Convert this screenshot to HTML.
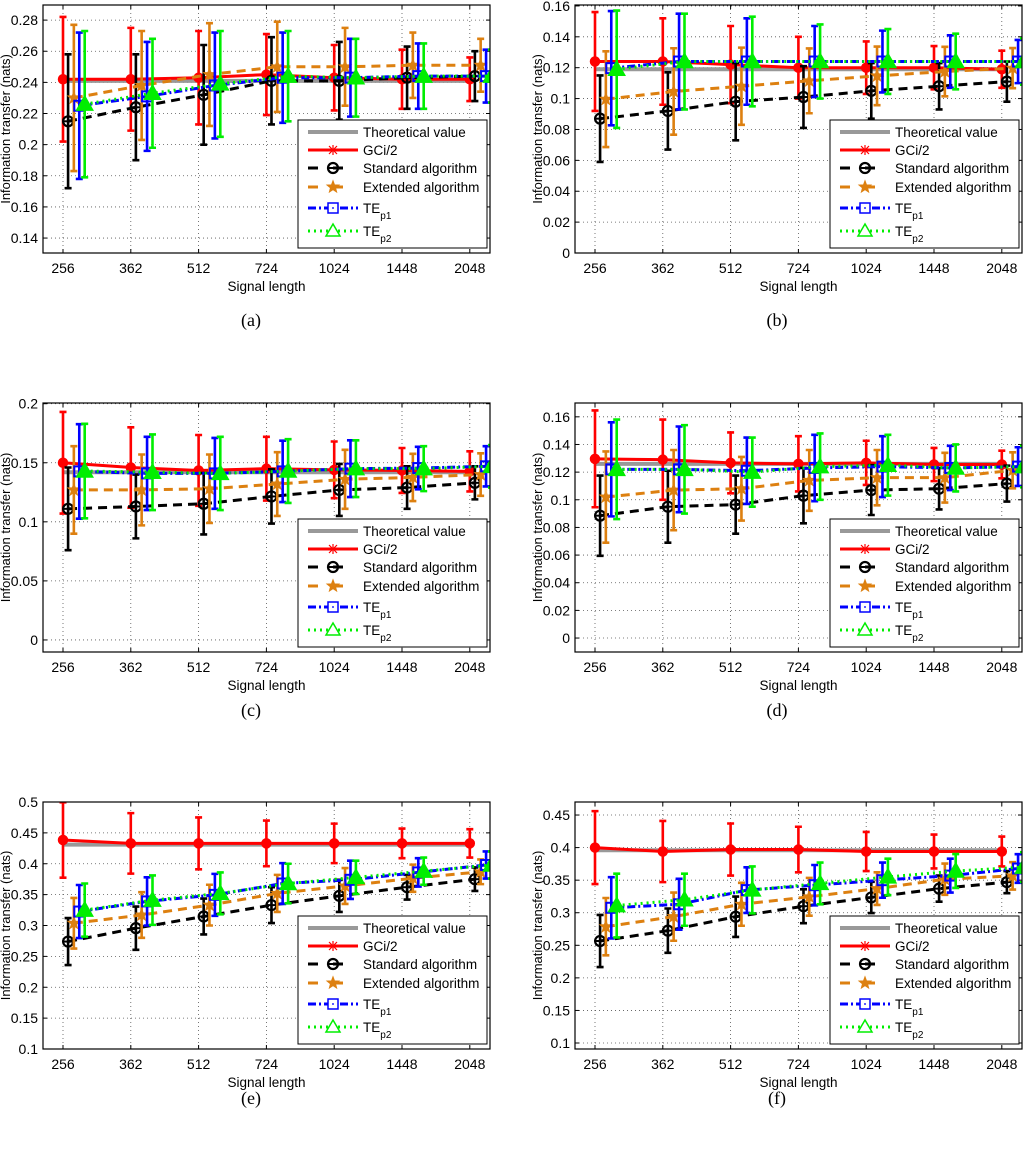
<!DOCTYPE html>
<html><head><meta charset="utf-8">
<style>
html,body{margin:0;padding:0;background:#fff;}
svg{display:block;font-family:"Liberation Sans",Arial,sans-serif;}
</style></head>
<body>
<svg id="fig" width="1024" height="1153" viewBox="0 0 1024 1153" xmlns="http://www.w3.org/2000/svg"></svg>
<script>
// ---- shared data ----
const xLabels = ['256','362','512','724','1024','1448','2048'];
const seriesNames = ['Theoretical value','GCi/2','Standard algorithm','Extended algorithm','TE','TE'];

// Panel (a)
const aTheo = [0.241,0.241,0.241,0.241,0.241,0.241,0.241];
const aRed = [0.242,0.242,0.243,0.245,0.243,0.242,0.242];
const aRedErr = [0.040,0.033,0.030,0.026,0.021,0.019,0.014];
const aBlack = [0.215,0.224,0.232,0.241,0.241,0.243,0.244];
const aBlackErr = [0.043,0.034,0.032,0.028,0.025,0.020,0.016];
const aOrange = [0.230,0.238,0.245,0.250,0.250,0.251,0.251];
const aOrangeErr = [0.047,0.035,0.033,0.029,0.025,0.021,0.017];
const aBlue = [0.225,0.231,0.238,0.243,0.243,0.244,0.244];
const aBlueErr = [0.047,0.035,0.034,0.029,0.025,0.021,0.017];
const aGreen = [0.226,0.233,0.239,0.244,0.243,0.244,0.244];
const aGreenErr = [0.047,0.035,0.034,0.029,0.025,0.021,0.017];
const aTicks = ['0.14','0.16','0.18','0.2','0.22','0.24','0.26','0.28'];

// Panel (b)
const bTheo = [0.119,0.119,0.119,0.119,0.119,0.119,0.119];
const bRed = [0.124,0.124,0.122,0.120,0.120,0.120,0.119];
const bRedErr = [0.032,0.028,0.025,0.020,0.017,0.014,0.012];
const bBlack = [0.087,0.092,0.098,0.101,0.105,0.108,0.111];
const bBlackErr = [0.028,0.025,0.025,0.020,0.018,0.015,0.013];
const bOrange = [0.0996,0.1046,0.108,0.1115,0.1147,0.1175,0.1197];
const bOrangeErr = [0.031,0.028,0.025,0.021,0.019,0.016,0.013];
const bBlue = [0.1197,0.124,0.124,0.124,0.124,0.124,0.124];
const bBlueErr = [0.037,0.031,0.028,0.023,0.020,0.017,0.014];
const bGreen = [0.119,0.124,0.124,0.124,0.124,0.124,0.124];
const bGreenErr = [0.038,0.031,0.029,0.024,0.021,0.018,0.015];
const bTicks = ['0','0.02','0.04','0.06','0.08','0.1','0.12','0.14','0.16'];

// Panel (c)
const cTheo = [0.142,0.142,0.142,0.142,0.142,0.142,0.142];
const cRed = [0.150,0.146,0.1435,0.145,0.144,0.1435,0.1427];
const cRedErr = [0.043,0.034,0.030,0.027,0.024,0.019,0.017];
const cBlack = [0.111,0.113,0.1153,0.1215,0.127,0.129,0.133];
const cBlackErr = [0.035,0.027,0.026,0.023,0.022,0.018,0.014];
const cOrange = [0.127,0.127,0.128,0.132,0.136,0.1376,0.140];
const cOrangeErr = [0.037,0.030,0.029,0.027,0.025,0.020,0.018];
const cBlue = [0.1427,0.141,0.141,0.1427,0.145,0.1455,0.147];
const cBlueErr = [0.040,0.031,0.030,0.026,0.024,0.018,0.017];
const cGreen = [0.143,0.142,0.141,0.143,0.145,0.145,0.147];
const cGreenErr = [0.040,0.032,0.031,0.027,0.024,0.019,0.018];
const cTicks = ['0','0.05','0.1','0.15','0.2'];

// Panel (d)
const dTheo = [0.126,0.126,0.126,0.126,0.126,0.126,0.126];
const dRed = [0.1296,0.129,0.1267,0.126,0.1267,0.1255,0.1255];
const dRedErr = [0.035,0.029,0.022,0.020,0.016,0.012,0.010];
const dBlack = [0.0885,0.095,0.0965,0.103,0.107,0.108,0.1117];
const dBlackErr = [0.029,0.026,0.021,0.020,0.018,0.015,0.013];
const dOrange = [0.102,0.107,0.108,0.114,0.116,0.116,0.1213];
const dOrangeErr = [0.033,0.029,0.023,0.022,0.020,0.018,0.013];
const dBlue = [0.122,0.122,0.121,0.123,0.124,0.123,0.124];
const dBlueErr = [0.034,0.031,0.024,0.024,0.022,0.016,0.014];
const dGreen = [0.122,0.122,0.120,0.124,0.125,0.123,0.124];
const dGreenErr = [0.036,0.032,0.025,0.024,0.022,0.017,0.015];
const dTicks = ['0','0.02','0.04','0.06','0.08','0.1','0.12','0.14','0.16'];

// Panel (e)
const eTheo = [0.431,0.431,0.431,0.431,0.431,0.431,0.431];
const eRed = [0.4385,0.433,0.433,0.433,0.433,0.433,0.433];
const eRedErr = [0.061,0.049,0.042,0.037,0.032,0.024,0.023];
const eBlack = [0.274,0.2957,0.3146,0.333,0.348,0.362,0.375];
const eBlackErr = [0.038,0.035,0.029,0.029,0.026,0.020,0.019];
const eOrange = [0.3037,0.317,0.333,0.352,0.364,0.3766,0.387];
const eOrangeErr = [0.041,0.037,0.033,0.030,0.029,0.022,0.020];
const eBlue = [0.3226,0.339,0.3496,0.368,0.374,0.386,0.398];
const eBlueErr = [0.043,0.039,0.034,0.033,0.031,0.023,0.022];
const eGreen = [0.325,0.341,0.352,0.368,0.378,0.388,0.398];
const eGreenErr = [0.043,0.040,0.034,0.032,0.027,0.022,0.022];
const eTicks = ['0.1','0.15','0.2','0.25','0.3','0.35','0.4','0.45','0.5'];

// Panel (f)
const fTheo = [0.396,0.396,0.396,0.396,0.396,0.396,0.396];
const fRed = [0.400,0.394,0.397,0.397,0.394,0.394,0.394];
const fRedErr = [0.056,0.047,0.040,0.035,0.030,0.026,0.023];
const fBlack = [0.2566,0.2725,0.2939,0.310,0.3235,0.337,0.347];
const fBlackErr = [0.040,0.034,0.031,0.026,0.024,0.020,0.017];
const fOrange = [0.2786,0.294,0.313,0.3245,0.337,0.3515,0.3566];
const fOrangeErr = [0.044,0.037,0.033,0.029,0.025,0.024,0.021];
const fBlue = [0.3076,0.313,0.3347,0.3423,0.350,0.357,0.3679];
const fBlueErr = [0.047,0.039,0.035,0.031,0.027,0.026,0.022];
const fGreen = [0.311,0.320,0.335,0.345,0.355,0.364,0.370];
const fGreenErr = [0.049,0.040,0.036,0.032,0.028,0.026,0.023];
const fTicks = ['0.1','0.15','0.2','0.25','0.3','0.35','0.4','0.45'];

const NS = 'http://www.w3.org/2000/svg';
const svg = document.getElementById('fig');
function mk(tag, attrs, parent){
  const e = document.createElementNS(NS, tag);
  for (const k in attrs) e.setAttribute(k, attrs[k]);
  (parent||svg).appendChild(e);
  return e;
}

const panels = [
  {key:'a', left:43, top:5, bottom:253, ymin:0.1304, ymax:0.2897, ticks:aTheo&&aTicks,
   theo:aTheo, s:[[aRed,aRedErr],[aBlack,aBlackErr],[aOrange,aOrangeErr],[aBlue,aBlueErr],[aGreen,aGreenErr]], cap:[251,326]},
  {key:'b', left:575, top:5, bottom:253, ymin:0, ymax:0.1606, ticks:bTicks,
   theo:bTheo, s:[[bRed,bRedErr],[bBlack,bBlackErr],[bOrange,bOrangeErr],[bBlue,bBlueErr],[bGreen,bGreenErr]], cap:[777,326]},
  {key:'c', left:43, top:403, bottom:652, ymin:-0.0102, ymax:0.2006, ticks:cTicks,
   theo:cTheo, s:[[cRed,cRedErr],[cBlack,cBlackErr],[cOrange,cOrangeErr],[cBlue,cBlueErr],[cGreen,cGreenErr]], cap:[251,716]},
  {key:'d', left:575, top:403, bottom:652, ymin:-0.0101, ymax:0.170, ticks:dTicks,
   theo:dTheo, s:[[dRed,dRedErr],[dBlack,dBlackErr],[dOrange,dOrangeErr],[dBlue,dBlueErr],[dGreen,dGreenErr]], cap:[777,716]},
  {key:'e', left:43, top:802, bottom:1049, ymin:0.1, ymax:0.5, ticks:eTicks,
   theo:eTheo, s:[[eRed,eRedErr],[eBlack,eBlackErr],[eOrange,eOrangeErr],[eBlue,eBlueErr],[eGreen,eGreenErr]], cap:[251,1104]},
  {key:'f', left:575, top:802, bottom:1049, ymin:0.0908, ymax:0.470, ticks:fTicks,
   theo:fTheo, s:[[fRed,fRedErr],[fBlack,fBlackErr],[fOrange,fOrangeErr],[fBlue,fBlueErr],[fGreen,fGreenErr]], cap:[777,1104]},
];

const colors = ['#ff0000','#000000','#dd8010','#0000ff','#00ee00'];
const dashes = ['none','9,6','9,6','8,3,2,3','2,4'];
const offs = [0, 0.075, 0.16, 0.24, 0.32];
const sNames = ['gci','standard','extended','te-p1','te-p2'];
const W = 447, STEP = 67.8;

function marker(g, k, x, y, col){
  if (k===0){ const m = mk('circle',{cx:x,cy:y,r:4.5,fill:col,stroke:col,'stroke-width':1.5},g); return m; }
  if (k===1){ const m = mk('g',{},g);
    mk('circle',{cx:x,cy:y,r:5,fill:'none',stroke:col,'stroke-width':2.2},m);
    mk('line',{x1:x-5,y1:y,x2:x+5,y2:y,stroke:col,'stroke-width':2},m); return m; }
  if (k===2){ const pts=[]; for(let j=0;j<10;j++){const r=j%2?2.6:6.2;const a=-Math.PI/2+j*Math.PI/5;pts.push((x+r*Math.cos(a)).toFixed(1)+','+(y+r*Math.sin(a)).toFixed(1));}
    return mk('polygon',{points:pts.join(' '),fill:col,stroke:col,'stroke-width':1},g); }
  if (k===3){ const m = mk('g',{},g);
    mk('rect',{x:x-5,y:y-5,width:10,height:10,fill:'none',stroke:col,'stroke-width':2},m);
    mk('rect',{x:x-0.8,y:y-0.8,width:1.6,height:1.6,fill:col},m); return m; }
  return mk('polygon',{points:`${x},${y-8} ${x-8},${y+6} ${x+8},${y+6}`,fill:col,stroke:col,'stroke-width':1.5},g);
}

panels.forEach(p=>{
  const g = mk('g',{});
  
  
  const right = p.left+W;
  const xs = i => p.left + 20 + i*STEP;
  const ys = v => p.bottom - (v-p.ymin)/(p.ymax-p.ymin)*(p.bottom-p.top);
  const cp = mk('clipPath',{id:'clip-'+p.key},g);
  mk('rect',{x:p.left,y:p.top,width:W,height:p.bottom-p.top},cp);
  // grid
  xLabels.forEach((lab,i)=>{
    const x = xs(i);
    const gl = mk('line',{x1:x,y1:p.top,x2:x,y2:p.bottom,stroke:'#555','stroke-width':0.8,'stroke-dasharray':'1,3'},g);
    
    
    mk('line',{x1:x,y1:p.bottom,x2:x,y2:p.bottom-4,stroke:'#000','stroke-width':1},g);
    mk('line',{x1:x,y1:p.top,x2:x,y2:p.top+4,stroke:'#000','stroke-width':1},g);
    const t = mk('text',{x:x,y:p.bottom+20,'text-anchor':'middle','font-size':14,fill:'#000'},g);
    t.textContent = lab;
    
    
  });
  p.ticks.forEach(lab=>{
    const v = parseFloat(lab), y = ys(v);
    const gl = mk('line',{x1:p.left,y1:y,x2:right,y2:y,stroke:'#555','stroke-width':0.8,'stroke-dasharray':'1,3'},g);
    
    
    mk('line',{x1:p.left,y1:y,x2:p.left+4,y2:y,stroke:'#000','stroke-width':1},g);
    mk('line',{x1:right,y1:y,x2:right-4,y2:y,stroke:'#000','stroke-width':1},g);
    const t = mk('text',{x:p.left-5,y:y+5,'text-anchor':'end','font-size':14,fill:'#000'},g);
    t.textContent = lab;
    
    
  });
  const plot = mk('g',{'clip-path':'url(#clip-'+p.key+')'},g);
  // theoretical
  const tl = mk('polyline',{points:p.theo.map((v,i)=>xs(i)+','+ys(v)).join(' '),fill:'none',stroke:'#999','stroke-width':4},plot);
  
  
  p.s.forEach((sv,k)=>{
    const [vals,errs] = sv, col = colors[k];
    const sg = mk('g',{},plot);
    
    
    const ln = mk('polyline',{points:vals.map((v,i)=>xs(i+offs[k])+','+ys(v)).join(' '),fill:'none',stroke:col,'stroke-width':3,'stroke-dasharray':dashes[k]},sg);
    
    
    vals.forEach((v,i)=>{
      const x = xs(i+offs[k]), y1 = ys(v+errs[i]), y2 = ys(v-errs[i]);
      const eb = mk('path',{d:`M${x},${y1}V${y2}M${x-3.5},${y1}H${x+3.5}M${x-3.5},${y2}H${x+3.5}`,stroke:col,'stroke-width':2.6,fill:'none'},sg);
      
      
      const m = marker(sg,k,x,ys(v),col);
      
      
    });
  });
  // box
  const bx = mk('rect',{x:p.left,y:p.top,width:W,height:p.bottom-p.top,fill:'none',stroke:'#000','stroke-width':1.2},g);
  
  
  // axis titles
  const xt = mk('text',{x:p.left+W/2,y:p.bottom+38,'text-anchor':'middle','font-size':13.5,fill:'#000'},g);
  xt.textContent = 'Signal length';
  
  
  const ycx = p.left-33, ycy = (p.top+p.bottom)/2;
  const yt = mk('text',{x:ycx,y:ycy,'text-anchor':'middle','font-size':13,fill:'#000',transform:`rotate(-90 ${ycx} ${ycy})`},g);
  yt.textContent = 'Information transfer (nats)';
  
  
  // legend
  const lx = right-192, ly = p.bottom-133;
  const lg = mk('g',{},g);
  
  
  mk('rect',{x:lx,y:ly,width:189,height:128,fill:'#fff',stroke:'#000','stroke-width':1},lg);
  const rowY = [12,30,48,67,88,111];
  rowY.forEach((dy,r)=>{
    const y = ly+dy;
    const le = mk('g',{},lg);
    
    
    if (r===0){
      mk('line',{x1:lx+10,y1:y,x2:lx+60,y2:y,stroke:'#999','stroke-width':4},le);
    } else {
      const k = r-1, col = colors[k];
      mk('line',{x1:lx+10,y1:y,x2:lx+60,y2:y,stroke:col,'stroke-width':3,'stroke-dasharray':k===1||k===2?'10,15':dashes[k]},le);
      if (k===0){
        mk('path',{d:`M${lx+35-5},${y}H${lx+40}M${lx+35},${y-5}V${y+5}M${lx+31},${y-4}L${lx+39},${y+4}M${lx+31},${y+4}L${lx+39},${y-4}`,stroke:col,'stroke-width':1.2},le);
      } else if (k===4){
        mk('polygon',{points:`${lx+35},${y-7} ${lx+28},${y+5} ${lx+42},${y+5}`,fill:'#fff',stroke:col,'stroke-width':1.5},le);
      } else if (k===3){
        mk('rect',{x:lx+30,y:y-5,width:10,height:10,fill:'#fff',stroke:col,'stroke-width':1.5},le);
        mk('rect',{x:lx+34.2,y:y-0.8,width:1.6,height:1.6,fill:col},le);
      } else { marker(le,k,lx+35,y,col); }
    }
    const t = mk('text',{x:lx+65,y:y+5,'font-size':13.5,fill:'#000'},le);
    t.textContent = seriesNames[r];
    if (r>=4){
      const s = mk('tspan',{dy:6,'font-size':10},t);
      s.textContent = r===4?'p1':'p2';
    }
  });
  // caption
  const cap = mk('text',{x:p.cap[0],y:p.cap[1],'text-anchor':'middle','font-size':18,'font-family':'"Liberation Serif",serif',fill:'#000'},g);
  cap.textContent = '('+p.key+')';
  
  
});
</script>
</body></html>
